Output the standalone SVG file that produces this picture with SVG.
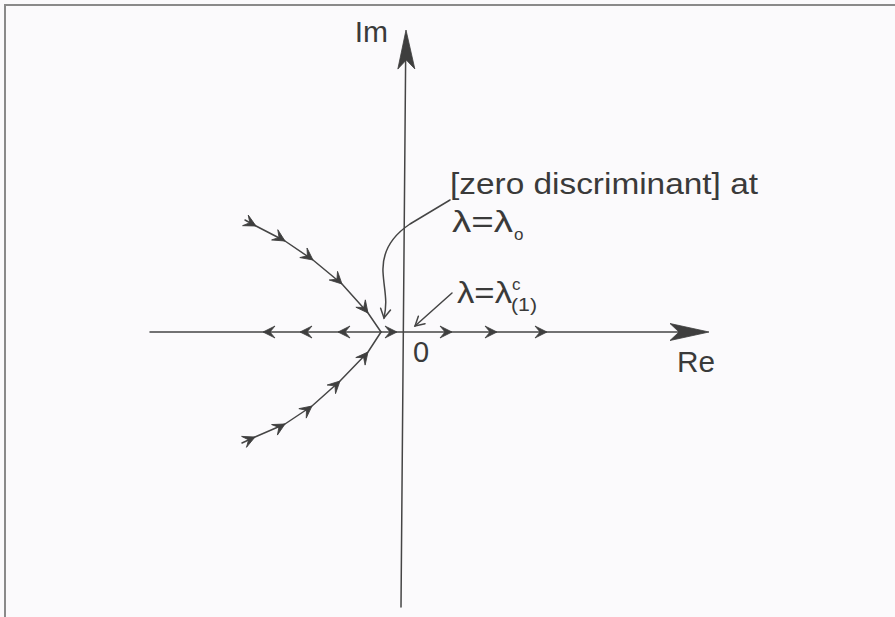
<svg xmlns="http://www.w3.org/2000/svg" xmlns:xlink="http://www.w3.org/1999/xlink" width="895" height="617" viewBox="0 0 895 617">
  <style>
    .ln { fill: none; stroke: #454545; stroke-width: 1.5; stroke-linejoin: round; stroke-linecap: round; }
    .ah { fill: #3e3e3e; stroke: #3e3e3e; stroke-width: 0.8; stroke-linejoin: miter; }
    .ov { fill: none; stroke: #454545; stroke-width: 1.5; stroke-linecap: round; stroke-linejoin: miter; }
    .tx { font-family: "Liberation Sans", Arial, sans-serif; fill: #3a3a3a; }
  </style>
  <defs>
    <path id="sa" d="M0,0 L-12,-6 L-7,0 L-12,6 Z"/>
    <path id="ba" d="M0,0 L-39,-8.5 L-30,0 L-39,8.5 Z"/>
    <path id="va" d="M-9,-5 L0,0 L-9,5"/>
  </defs>
  <rect x="0" y="0" width="895" height="617" fill="#fbfafc"/>
  <path d="M5,617 L5,5 L895,5" fill="none" stroke="#8a8a8a" stroke-width="2"/>

  <g id="axes">
    <line class="ln" x1="150" y1="332" x2="700" y2="332"/>
    <use href="#ba" class="ah" transform="translate(709,332)"/>
    <line class="ln" x1="405.8" y1="40" x2="401" y2="607"/>
    <use href="#ba" class="ah" transform="translate(406,30) rotate(-90.5)"/>
  </g>

  <g id="connectors">
    <g id="branch-upper">
      <polyline class="ln" points="245,220 256,226 285,241 313,260 342,284 368,313 381,332"/>
      <use href="#sa" class="ah" transform="translate(256,226) rotate(28)"/>
      <use href="#sa" class="ah" transform="translate(285,241) rotate(31)"/>
      <use href="#sa" class="ah" transform="translate(313,260) rotate(37)"/>
      <use href="#sa" class="ah" transform="translate(342,284) rotate(44)"/>
      <use href="#sa" class="ah" transform="translate(368,313) rotate(52)"/>
    </g>
    <g id="branch-lower">
      <polyline class="ln" points="242,443 255,437 285,424 312,406 340,381 368,352 381,332"/>
      <use href="#sa" class="ah" transform="translate(255,437) rotate(-24)"/>
      <use href="#sa" class="ah" transform="translate(285,424) rotate(-29)"/>
      <use href="#sa" class="ah" transform="translate(312,406) rotate(-38)"/>
      <use href="#sa" class="ah" transform="translate(340,381) rotate(-44)"/>
      <use href="#sa" class="ah" transform="translate(368,352) rotate(-51)"/>
    </g>
    <g id="branch-real">
      <use href="#sa" class="ah" transform="translate(263,332) rotate(180)"/>
      <use href="#sa" class="ah" transform="translate(300,332) rotate(180)"/>
      <use href="#sa" class="ah" transform="translate(338,332) rotate(180)"/>
      <use href="#sa" class="ah" transform="translate(397,332)"/>
      <use href="#sa" class="ah" transform="translate(452,332)"/>
      <use href="#sa" class="ah" transform="translate(497,332)"/>
      <use href="#sa" class="ah" transform="translate(547,332)"/>
    </g>
    <g id="pointer-lambda-o">
      <path class="ln" d="M450,200 L410,224 C392,236 382,252 383,272 C384,290 388,300 384,318"/>
      <use href="#va" class="ov" transform="translate(384,318) rotate(100)"/>
    </g>
    <g id="pointer-lambda-1c">
      <line class="ln" x1="452" y1="293" x2="415" y2="326"/>
      <use href="#va" class="ov" transform="translate(415,326) rotate(138)"/>
    </g>
  </g>

  <g id="label-im"><text class="tx" x="388" y="42" font-size="30" text-anchor="end">Im</text></g>
  <g id="label-re"><text class="tx" x="677" y="372" font-size="30" textLength="38" lengthAdjust="spacingAndGlyphs">Re</text></g>
  <g id="label-zero"><text class="tx" x="413" y="362" font-size="29">0</text></g>
  <g id="label-discriminant">
    <text class="tx" x="450" y="194" font-size="29" textLength="308" lengthAdjust="spacingAndGlyphs">[zero discriminant] at</text>
    <text class="tx" x="452" y="232" font-size="29" textLength="61" lengthAdjust="spacingAndGlyphs">λ=λ</text>
    <text class="tx" x="514" y="240" font-size="17">o</text>
  </g>
  <g id="label-lambda-1c">
    <text class="tx" x="457" y="303" font-size="29" textLength="55" lengthAdjust="spacingAndGlyphs">λ=λ</text>
    <text class="tx" x="512" y="290" font-size="17">c</text>
    <text class="tx" x="511" y="311" font-size="18" textLength="26" lengthAdjust="spacingAndGlyphs">(1)</text>
  </g>
</svg>
